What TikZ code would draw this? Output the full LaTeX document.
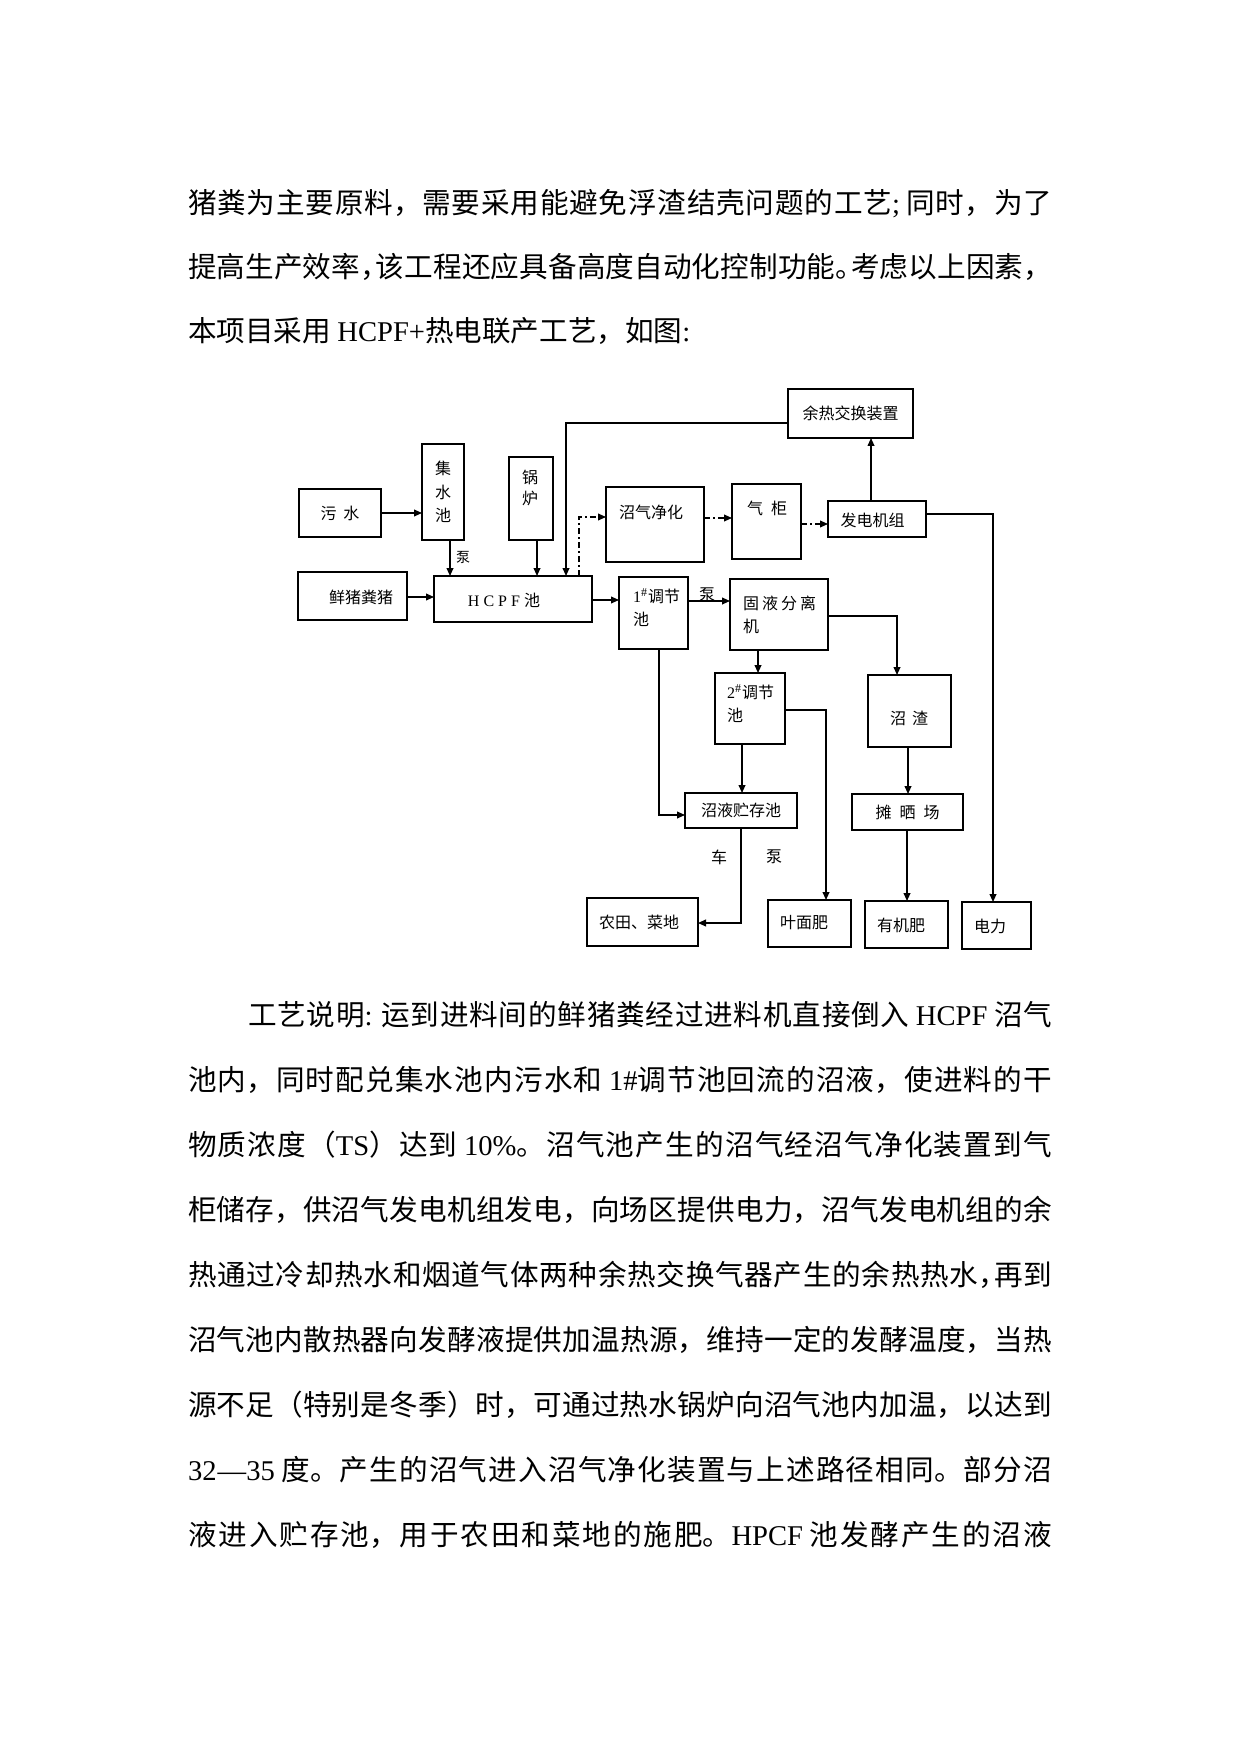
\documentclass[tikz,border=0pt]{standalone}
\usepackage{fontspec}
\setmainfont{Liberation Serif}
\newfontfamily\cjk{Noto Sans CJK SC}
\usetikzlibrary{arrows.meta}
\XeTeXlinebreaklocale "zh"
\XeTeXlinebreakskip=0pt plus 10pt\relax
\newcommand\lat[1]{{\rmfamily #1}}
\newcommand\bodyfont{\cjk\fontsize{14.3pt}{18pt}\selectfont}
\newcommand\dfont{\cjk\fontsize{8pt}{11.75pt}\selectfont}
\newcommand\jline[2]{\parbox[t]{#1}{\bodyfont\parfillskip=0pt\relax\noindent #2}}
\newcommand\cpu[1]{\makebox[0.55em][l]{#1}}
\newcommand\shp{{\rmfamily\textsuperscript{\#}}}
\tikzset{
  box/.style 2 args={draw, line width=0.75pt, inner sep=0pt, outer sep=0pt,
    minimum width=#1*0.5pt, minimum height=#2*0.5pt, font=\dfont, align=center},
  lab/.style={inner sep=0pt, outer sep=0pt, font=\dfont},
  txt/.style={inner sep=0pt, outer sep=0pt, anchor=base west},
  arr/.style={line width=0.7pt, -{Triangle[length=4pt,width=3.4pt]}},
  dd/.style={dash pattern=on 3pt off 1.6pt on 0.8pt off 1.6pt},
}
\begin{document}
\begin{tikzpicture}[x=0.5pt,y=-0.5pt]
\path[use as bounding box, fill=white] (0,0) rectangle (1241,1754);
% ---------- body text ----------
\node[txt] (p1a) at (188,214) {\jline{432pt}{猪粪为主要原料，需要采用能避免浮渣结壳问题的工艺\lat{;} 同时，为了}};
\node[txt] (p1b) at (188,278) {\jline{432pt}{提高生产效率\cpu{，}该工程还应具备高度自动化控制功能\cpu{。}考虑以上因素，}};
\node[txt] (p1c) at (188,342) {\bodyfont 本项目采用 \lat{HCPF+}热电联产工艺，如图\lat{:}};
\node[txt] (p2a) at (248,1025) {\jline{402pt}{工艺说明\lat{:} 运到进料间的鲜猪粪经过进料机直接倒入 \lat{HCPF} 沼气}};
\node[txt] (p2b) at (188,1090) {\jline{432pt}{池内，同时配兑集水池内污水和 \lat{1\#}调节池回流的沼液，使进料的干}};
\node[txt] (p2c) at (188,1155) {\jline{432pt}{物质浓度（\lat{TS}）达到 \lat{10\%}。沼气池产生的沼气经沼气净化装置到气}};
\node[txt] (p2d) at (188,1220) {\jline{432pt}{柜储存，供沼气发电机组发电，向场区提供电力，沼气发电机组的余}};
\node[txt] (p2e) at (188,1285) {\jline{432pt}{热通过冷却热水和烟道气体两种余热交换气器产生的余热热水\cpu{，}再到}};
\node[txt] (p2f) at (188,1350) {\jline{432pt}{沼气池内散热器向发酵液提供加温热源，维持一定的发酵温度，当热}};
\node[txt] (p2g) at (188,1415) {\jline{432pt}{源不足（特别是冬季）时，可通过热水锅炉向沼气池内加温，以达到}};
\node[txt] (p2h) at (188,1480) {\jline{432pt}{\lat{32—35} 度。产生的沼气进入沼气净化装置与上述路径相同。部分沼}};
\node[txt] (p2i) at (188,1545) {\jline{432pt}{液进入贮存池，用于农田和菜地的施肥。\lat{HPCF} 池发酵产生的沼液}};
% ---------- boxes ----------
\node[box={82}{48}] (wushui) at (340,513) {污\hspace{3.5pt}水};
\node[box={42}{96}] (jishui) at (443,492) {集\\水\\池};
\node[box={44}{83}] (guolu) at (531,498.5) {};
\node[lab, align=center, font=\cjk\fontsize{8pt}{10.5pt}\selectfont] (guolut) at (530,488) {锅\\炉};
\node[box={109}{48}] (xianzhu) at (352.5,596) {};
\node[lab] (xianzhut) at (361,597) {鲜猪粪猪};
\node[box={158}{46}] (hcpf) at (513,599) {};
\node[lab] (hcpft) at (504,600) {\lat{H\hspace{2pt}C\hspace{2pt}P\hspace{2pt}F}\hspace{2pt}池};
\node[box={98}{75}] (jinghua) at (655,524.5) {};
\node[lab] (jinghuat) at (651,512) {沼气净化};
\node[box={69}{72}] (tiao1) at (653.5,613) {};
\node[lab, anchor=base west] (tiao1a) at (633,602) {\lat{1}\shp 调节};
\node[lab, anchor=base west] (tiao1b) at (633,625) {池};
\node[box={125}{49}] (yure) at (850.5,413.5) {余热交换装置};
\node[box={69}{75}] (qigui) at (766.5,521.5) {};
\node[lab] (qiguit) at (767,508) {气\hspace{4pt}柜};
\node[box={98}{36}] (fadian) at (877,519) {};
\node[lab] (fadiant) at (872.5,520) {发电机组};
\node[box={98}{71}] (guye) at (779,614.5) {};
\node[lab, anchor=base west] (guyea) at (743,609) {固\hspace{1.5pt}液\hspace{1.5pt}分\hspace{1.5pt}离};
\node[lab, anchor=base west] (guyeb) at (743,632) {机};
\node[box={70}{71}] (tiao2) at (750,708.5) {};
\node[lab, anchor=base west] (tiao2a) at (727,698) {\lat{2}\shp 调节};
\node[lab, anchor=base west] (tiao2b) at (727,721) {池};
\node[box={83}{72}] (zhazha) at (909.5,711) {};
\node[lab] (zhazhat) at (909,718) {沼\hspace{3pt}渣};
\node[box={112}{35}] (zhucun) at (741,810.5) {沼液贮存池};
\node[box={111}{36}] (tanshai) at (907.5,812) {摊\hspace{4pt}晒\hspace{4pt}场};
\node[box={111}{48}] (nongtian) at (642.5,922) {};
\node[lab] (nongtiant) at (639,922) {农田、菜地};
\node[box={83}{47}] (yemian) at (809.5,923.5) {};
\node[lab] (yemiant) at (804,923) {叶面肥};
\node[box={83}{47}] (youji) at (906.5,924.5) {};
\node[lab] (youjit) at (901,925) {有机肥};
\node[box={69}{47}] (dianli) at (996.5,925.5) {};
\node[lab] (dianlit) at (990,926) {电力};
% ---------- labels on connectors ----------
\node[lab, font=\cjk\fontsize{7pt}{8pt}\selectfont] (beng1) at (463,557) {泵};
\node[lab] (beng2) at (707,595) {泵};
\node[lab] (che) at (719,857) {车};
\node[lab] (beng3) at (774,857) {泵};
% ---------- connectors ----------
\draw[arr] (wushui.east) -- (jishui.west |- wushui.east);
\draw[arr] (450,0 |- jishui.south) -- (450,0 |- hcpf.north);
\draw[arr] (537,0 |- guolu.south) -- (537,0 |- hcpf.north);
\draw[arr] (yure.west |- 0,423) -- (566,423) -- (566,0 |- hcpf.north);
\draw[arr,dd] (579,0 |- hcpf.north) |- (jinghua.west |- 0,517);
\draw[arr,dd] (jinghua.east |- 0,518) -- (qigui.west |- 0,518);
\draw[arr,dd] (qigui.east |- 0,524) -- (fadian.west |- 0,524);
\draw[arr] (871,0 |- fadian.north) -- (871,0 |- yure.south);
\draw[arr] (fadian.east |- 0,514) -| (993,0 |- dianli.north);
\draw[arr] (xianzhu.east |- 0,597) -- (hcpf.west |- 0,597);
\draw[arr] (hcpf.east |- 0,600) -- (tiao1.west |- 0,600);
\draw[arr] (tiao1.east |- 0,601) -- (guye.west |- 0,601);
\draw[arr] (guye.east |- 0,616) -| (897,0 |- zhazha.north);
\draw[arr] (758,0 |- guye.south) -- (758,0 |- tiao2.north);
\draw[arr] (tiao2.east |- 0,710) -| (826,0 |- yemian.north);
\draw[arr] (742,0 |- tiao2.south) -- (742,0 |- zhucun.north);
\draw[arr] (659,0 |- tiao1.south) |- (zhucun.west |- 0,815);
\draw[arr] (908,0 |- zhazha.south) -- (908,0 |- tanshai.north);
\draw[arr] (907,0 |- tanshai.south) -- (907,0 |- youji.north);
\draw[arr] (741,0 |- zhucun.south) |- (nongtian.east |- 0,923);
\end{tikzpicture}
\end{document}
